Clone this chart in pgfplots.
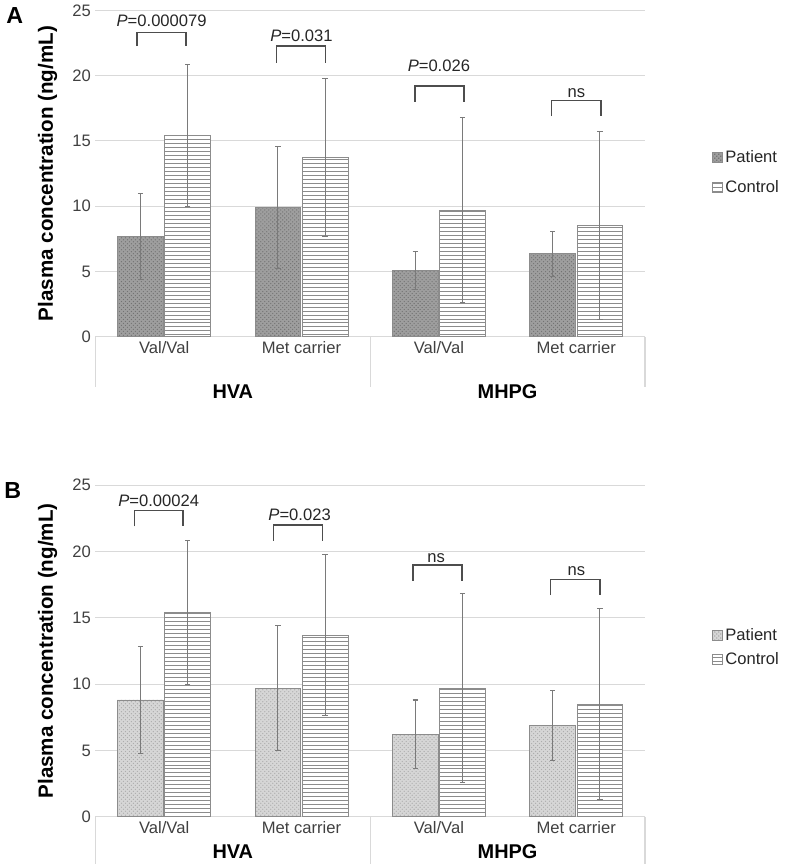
\documentclass[border=0pt]{standalone}
\usepackage{pgfplots}
\pgfplotsset{compat=1.18}
\usepackage{fontspec}
\setmainfont{Liberation Sans}
\usetikzlibrary{patterns}

\definecolor{gridgray}{HTML}{D9D9D9}
\definecolor{bargray}{HTML}{8C8C8C}
\definecolor{errgray}{HTML}{7A7A7A}
\definecolor{txtgray}{HTML}{404040}
\definecolor{brkgray}{HTML}{4D4D4D}

\newcommand\fs[1]{\fontsize{#1}{#1}\selectfont}
% bracket: xleft, xright, y of bar, y of leg ends
\newcommand\bracket[4]{\draw[brkgray, line width=1.2pt] (axis cs:#1,#4) -- (axis cs:#1,#3) -- (axis cs:#2,#3) -- (axis cs:#2,#4);}
% group separators below the axis
\newcommand\seps[1]{%
  \draw[gridgray, line width=0.8pt] (rel axis cs:0,0) -- ++(0pt,-#1);
  \draw[gridgray, line width=0.8pt] (rel axis cs:0.5,0) -- ++(0pt,-#1);
  \draw[gridgray, line width=0.8pt] (rel axis cs:1,0) -- ++(0pt,-#1);}

\tikzset{
  patA/.style={draw=bargray, line width=0.7pt, fill=black!38, postaction={pattern=crosshatch dots, pattern color=black!55}},
  patB/.style={draw=bargray, line width=0.7pt, fill=black!16, postaction={pattern=crosshatch dots, pattern color=black!32}},
  ctrl/.style={draw=bargray, line width=0.7pt, fill=white, postaction={pattern=horizontal lines, pattern color=black!45}},
}

\pgfplotsset{
  panel/.style={
    scale only axis, width=414pt, anchor=south west,
    xmin=-0.5, xmax=3.5, ymin=0, ymax=25,
    ytick={0,5,...,25}, xtick={0,1,2,3},
    xticklabels={Val/Val, Met carrier, Val/Val, Met carrier},
    ymajorgrids, grid style={gridgray, line width=0.8pt},
    axis line style={draw=none}, major tick length=0pt,
    tick label style={font=\fs{12.5}, text=txtgray},
    /pgf/number format/assume math mode=true,
    ylabel={Plasma concentration (ng/mL)},
    ylabel style={at={(axis description cs:-0.087,0.5)}, anchor=center, font=\bfseries\fs{15.5}},
    clip=false,
    legend style={draw=none, fill=none, anchor=west, font=\fs{12.5}, text=black!85},
    legend cell align=left,
    error bars/y dir=both, error bars/y explicit,
    error bars/error mark=-,
    error bars/error bar style={errgray, line width=0.8pt},
    error bars/error mark options={rotate=90, errgray, mark size=2pt, line width=0.8pt},
  },
  patient/.style={ybar, bar width=0.333, bar shift=0pt, #1,
    legend image code/.code={\draw[#1] (0pt,-3.75pt) rectangle (7.5pt,3.75pt);}},
  control/.style={ybar, bar width=0.333, bar shift=0pt, ctrl,
    legend image code/.code={\draw[ctrl] (0pt,-3.75pt) rectangle (7.5pt,3.75pt);}},
}

\begin{document}
\begin{tikzpicture}
\path (0pt,0pt) rectangle (582.75pt,-648.75pt);
\node[font=\bfseries\fs{17.5}] at (7.5pt,-9pt) {A};
\node[font=\bfseries\fs{17.5}] at (6pt,-366.75pt) {B};

% ---------- panel A ----------
\begin{axis}[panel, at={(68.25pt,-251.25pt)}, height=246pt,
  legend style={at={(1.114,0.503)}, row sep=8.5pt}]
\addplot[patient=patA]
  coordinates {(-0.172,7.7) +- (0,3.3) (0.828,9.9) +- (0,4.7) (1.828,5.1) +- (0,1.45) (2.828,6.35) +- (0,1.75)};
\addlegendentry{Patient}
\addplot[control]
  coordinates {(0.172,15.4) +- (0,5.45) (1.172,13.7) +- (0,6.05) (2.172,9.7) +- (0,7.1) (3.172,8.5) +- (0,7.2)};
\addlegendentry{Control}

\bracket{-0.196}{0.159}{23.3}{22.25}
\bracket{0.819}{1.174}{22.25}{21.0}
\bracket{1.826}{2.181}{19.2}{18.0}
\bracket{2.819}{3.181}{18.1}{16.9}
\node[anchor=base, font=\fs{12.5}, text=black!85] at (axis cs:-0.018,23.78) {\textit{P}=0.000079};
\node[anchor=base, font=\fs{12.5}, text=black!85] at (axis cs:1.0,22.64) {\textit{P}=0.031};
\node[anchor=base, font=\fs{12.5}, text=black!85] at (axis cs:2.0,20.35) {\textit{P}=0.026};
\node[anchor=base, font=\fs{12.5}, text=black!85] at (axis cs:3.0,18.29) {ns};

\seps{37.5pt}
\node[font=\bfseries\fs{15}] at ([yshift=-41.25pt]rel axis cs:0.25,0) {HVA};
\node[font=\bfseries\fs{15}] at ([yshift=-41.25pt]rel axis cs:0.75,0) {MHPG};
\end{axis}

% ---------- panel B ----------
\begin{axis}[panel, at={(68.25pt,-612.75pt)}, height=249.75pt,
  legend style={at={(1.114,0.51)}, row sep=4pt}]
\addplot[patient=patB]
  coordinates {(-0.172,8.8) +- (0,4.0) (0.828,9.7) +- (0,4.7) (1.828,6.2) +- (0,2.6) (2.828,6.9) +- (0,2.65)};
\addlegendentry{Patient}
\addplot[control]
  coordinates {(0.172,15.4) +- (0,5.45) (1.172,13.7) +- (0,6.05) (2.172,9.7) +- (0,7.1) (3.172,8.5) +- (0,7.2)};
\addlegendentry{Control}

\bracket{-0.217}{0.138}{23.1}{21.9}
\bracket{0.797}{1.152}{22.0}{20.8}
\bracket{1.812}{2.167}{19.0}{17.8}
\bracket{2.812}{3.174}{17.9}{16.7}
\node[anchor=base, font=\fs{12.5}, text=black!85] at (axis cs:-0.04,23.42) {\textit{P}=0.00024};
\node[anchor=base, font=\fs{12.5}, text=black!85] at (axis cs:0.986,22.30) {\textit{P}=0.023};
\node[anchor=base, font=\fs{12.5}, text=black!85] at (axis cs:1.98,19.14) {ns};
\node[anchor=base, font=\fs{12.5}, text=black!85] at (axis cs:3.0,18.17) {ns};

\seps{36pt}
\node[font=\bfseries\fs{15}] at ([yshift=-26.25pt]rel axis cs:0.25,0) {HVA};
\node[font=\bfseries\fs{15}] at ([yshift=-26.25pt]rel axis cs:0.75,0) {MHPG};
\end{axis}
\end{tikzpicture}
\end{document}
